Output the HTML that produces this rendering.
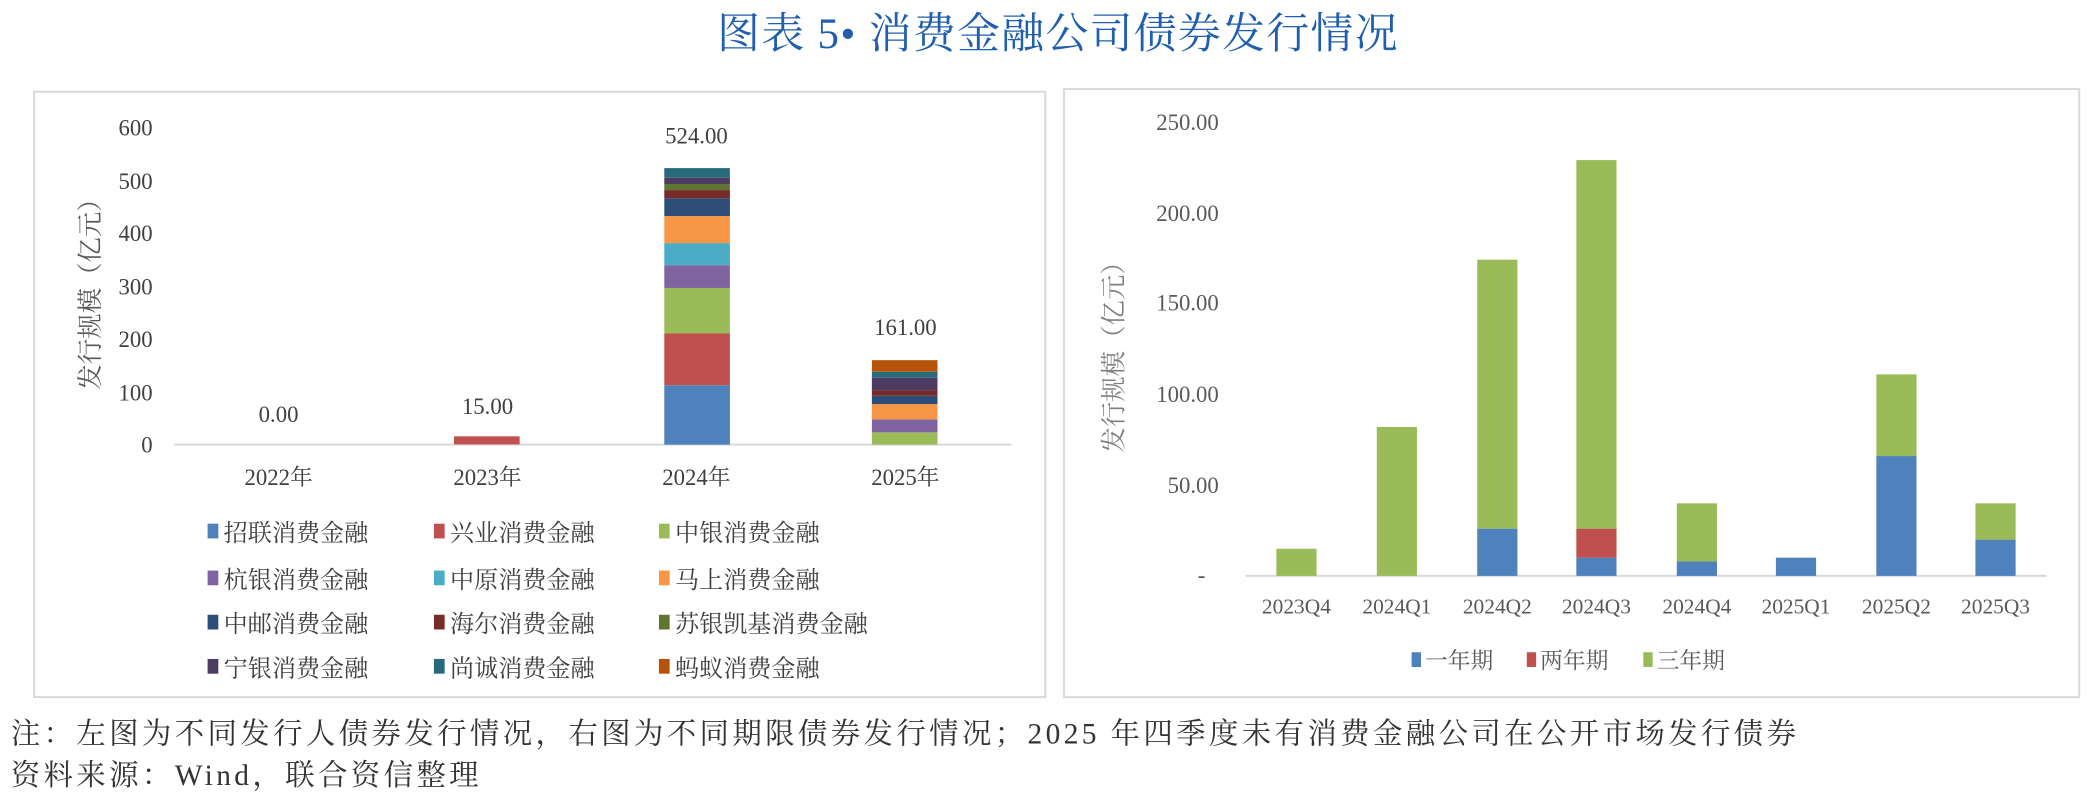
<!DOCTYPE html>
<html><head><meta charset="utf-8"><style>
html,body{margin:0;padding:0;background:#fff;width:2100px;height:800px;overflow:hidden}
text{font-family:"Liberation Serif","Noto Serif CJK SC",serif}
</style></head><body>
<svg width="2100" height="800" viewBox="0 0 1568 597.3" xmlns="http://www.w3.org/2000/svg">
<text x="790" y="36" text-anchor="middle" font-size="32" letter-spacing="1" fill="#1f5fae">图表 5• 消费金融公司债券发行情况</text>
<!-- left panel -->
<rect x="25.5" y="68.5" width="755" height="452" fill="none" stroke="#d9d9d9" stroke-width="1.5"/>
<g font-size="17" fill="#404040" text-anchor="end">
<text x="114" y="338">0</text><text x="114" y="299">100</text><text x="114" y="259">200</text>
<text x="114" y="220">300</text><text x="114" y="180">400</text><text x="114" y="141">500</text><text x="114" y="101">600</text>
</g>
<text transform="translate(74,215) rotate(-90)" text-anchor="middle" font-size="19" fill="#595959">发行规模（亿元）</text>
<line x1="130" y1="332" x2="755" y2="332" stroke="#d9d9d9" stroke-width="1.5"/>
<rect x="339" y="325.8" width="49" height="6" fill="#c0504d"/>
<g>
<rect x="496" y="287.6" width="49" height="44.4" fill="#4f81bd"/>
<rect x="496" y="249" width="49" height="38.6" fill="#c0504d"/>
<rect x="496" y="215" width="49" height="34" fill="#9bbb59"/>
<rect x="496" y="198" width="49" height="17" fill="#8064a2"/>
<rect x="496" y="181.5" width="49" height="16.5" fill="#4bacc6"/>
<rect x="496" y="161.3" width="49" height="20.2" fill="#f79646"/>
<rect x="496" y="148" width="49" height="13.3" fill="#2c4d75"/>
<rect x="496" y="141.9" width="49" height="6.1" fill="#772c2a"/>
<rect x="496" y="137.4" width="49" height="4.5" fill="#5f7530"/>
<rect x="496" y="132.7" width="49" height="4.7" fill="#4d3b62"/>
<rect x="496" y="125.5" width="49" height="7.2" fill="#276a7c"/>
</g>
<g>
<rect x="651" y="322.8" width="49" height="9.2" fill="#9bbb59"/>
<rect x="651" y="313.1" width="49" height="9.7" fill="#8064a2"/>
<rect x="651" y="301.7" width="49" height="11.4" fill="#f79646"/>
<rect x="651" y="295.5" width="49" height="6.2" fill="#2c4d75"/>
<rect x="651" y="291.5" width="49" height="4" fill="#772c2a"/>
<rect x="651" y="282" width="49" height="9.5" fill="#4d3b62"/>
<rect x="651" y="277.6" width="49" height="4.4" fill="#276a7c"/>
<rect x="651" y="268.9" width="49" height="8.7" fill="#b45309"/>
</g>
<g font-size="17" fill="#404040" text-anchor="middle">
<text x="208" y="315">0.00</text><text x="364" y="309">15.00</text>
<text x="520" y="107">524.00</text><text x="676" y="250">161.00</text>
<text x="208" y="362">2022年</text><text x="364" y="362">2023年</text>
<text x="520" y="362">2024年</text><text x="676" y="362">2025年</text>
</g>
<g font-size="18" fill="#404040">
<rect x="155" y="391" width="8" height="11" fill="#4f81bd"/><text x="167" y="404">招联消费金融</text>
<rect x="324" y="391" width="8" height="11" fill="#c0504d"/><text x="336" y="404">兴业消费金融</text>
<rect x="492" y="391" width="8" height="11" fill="#9bbb59"/><text x="504" y="404">中银消费金融</text>
<rect x="155" y="426" width="8" height="11" fill="#8064a2"/><text x="167" y="439">杭银消费金融</text>
<rect x="324" y="426" width="8" height="11" fill="#4bacc6"/><text x="336" y="439">中原消费金融</text>
<rect x="492" y="426" width="8" height="11" fill="#f79646"/><text x="504" y="439">马上消费金融</text>
<rect x="155" y="459" width="8" height="11" fill="#2c4d75"/><text x="167" y="472">中邮消费金融</text>
<rect x="324" y="459" width="8" height="11" fill="#772c2a"/><text x="336" y="472">海尔消费金融</text>
<rect x="492" y="459" width="8" height="11" fill="#5f7530"/><text x="504" y="472">苏银凯基消费金融</text>
<rect x="155" y="492" width="8" height="11" fill="#4d3b62"/><text x="167" y="505">宁银消费金融</text>
<rect x="324" y="492" width="8" height="11" fill="#276a7c"/><text x="336" y="505">尚诚消费金融</text>
<rect x="492" y="492" width="8" height="11" fill="#b45309"/><text x="504" y="505">蚂蚁消费金融</text>
</g>
<!-- right panel -->
<rect x="794.5" y="66.5" width="758" height="454" fill="none" stroke="#d9d9d9" stroke-width="1.5"/>
<g font-size="17" fill="#595959" text-anchor="end">
<text x="910" y="97">250.00</text><text x="910" y="165">200.00</text><text x="910" y="232">150.00</text>
<text x="910" y="300">100.00</text><text x="910" y="368">50.00</text><text x="900" y="435">-</text>
</g>
<text transform="translate(838,262) rotate(-90)" text-anchor="middle" font-size="19" fill="#7f7f7f">发行规模（亿元）</text>
<line x1="930" y1="430" x2="1528" y2="430" stroke="#d9d9d9" stroke-width="1.5"/>
<g>
<rect x="953" y="409.7" width="30" height="20.3" fill="#9bbb59"/>
<rect x="1028" y="318.8" width="30" height="111.2" fill="#9bbb59"/>
<rect x="1103" y="394.7" width="30" height="35.3" fill="#4f81bd"/>
<rect x="1103" y="193.9" width="30" height="200.8" fill="#9bbb59"/>
<rect x="1177" y="416.4" width="30" height="13.6" fill="#4f81bd"/>
<rect x="1177" y="394.7" width="30" height="21.7" fill="#c0504d"/>
<rect x="1177" y="119.5" width="30" height="275.2" fill="#9bbb59"/>
<rect x="1252" y="419.2" width="30" height="10.8" fill="#4f81bd"/>
<rect x="1252" y="375.8" width="30" height="43.4" fill="#9bbb59"/>
<rect x="1326" y="416.4" width="30" height="13.6" fill="#4f81bd"/>
<rect x="1401" y="340.5" width="30" height="89.5" fill="#4f81bd"/>
<rect x="1401" y="279.5" width="30" height="61" fill="#9bbb59"/>
<rect x="1475" y="402.9" width="30" height="27.1" fill="#4f81bd"/>
<rect x="1475" y="375.8" width="30" height="27.1" fill="#9bbb59"/>
</g>
<g font-size="16" fill="#595959" text-anchor="middle">
<text x="968" y="458">2023Q4</text><text x="1043" y="458">2024Q1</text><text x="1118" y="458">2024Q2</text>
<text x="1192" y="458">2024Q3</text><text x="1267" y="458">2024Q4</text><text x="1341" y="458">2025Q1</text>
<text x="1416" y="458">2025Q2</text><text x="1490" y="458">2025Q3</text>
</g>
<g font-size="17" fill="#595959">
<rect x="1054" y="487" width="7" height="11" fill="#4f81bd"/><text x="1064" y="499">一年期</text>
<rect x="1140" y="487" width="7" height="11" fill="#c0504d"/><text x="1150" y="499">两年期</text>
<rect x="1227" y="487" width="7" height="11" fill="#9bbb59"/><text x="1237" y="499">三年期</text>
</g>
<g font-size="22" fill="#333" letter-spacing="2.5">
<text x="8" y="555">注：左图为不同发行人债券发行情况，右图为不同期限债券发行情况；2025 年四季度未有消费金融公司在公开市场发行债券</text>
<text x="8" y="586">资料来源：Wind，联合资信整理</text>
</g>
</svg>
</body></html>
